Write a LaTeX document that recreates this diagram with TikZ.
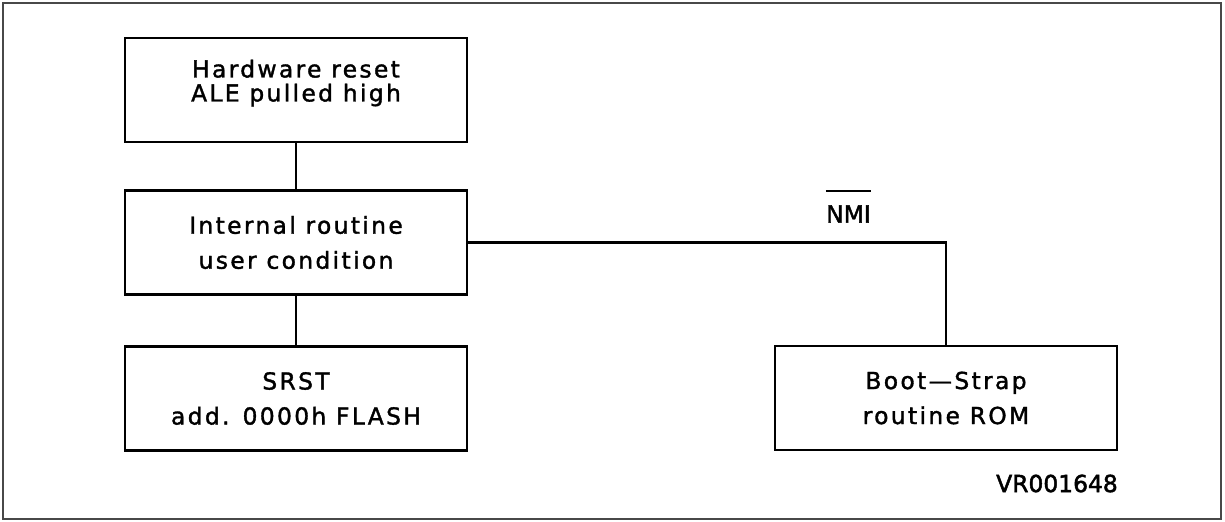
\documentclass[tikz,border=0pt]{standalone}
\usepackage{fontspec}
\setmainfont{DejaVu Sans}
\newfontfamily\plotfont[LetterSpace=10,FakeBold=1.5]{DejaVu Sans}
\newfontfamily\tagfont[FakeBold=2]{DejaVu Sans}

\begin{document}
\begin{tikzpicture}[x=0.5pt,y=-0.5pt,
  blk/.style={draw,line width=1.4pt,minimum width=171pt,minimum height=52pt,inner sep=0pt},
  blktext/.style={align=center,inner sep=0pt,font=\plotfont\fontsize{11.7}{17.5}\selectfont},
  tag/.style={inner sep=0pt,font=\tagfont\fontsize{11.7}{14}\selectfont},
  wire/.style={line width=1.4pt}]

% ------------------------------------------------ frame colour
\definecolor{frame_gray}{RGB}{72,72,72}

\useasboundingbox (0,0) rectangle (1225,521);
\draw[color=frame_gray,line width=1pt] (3,3) rectangle (1221,519);

% ------------------------------------------------ blocks
\node[blk,label={[blktext,yshift=3.5pt]center:Hardware reset\\[-5.5pt]ALE pulled high}] (hwreset) at (296,90) {};
\node[blk] (introutine) at (296,242.5) {};
\node[blktext] (introutine_txt) at (introutine) {Internal routine\\user condition};
\node[blk] (srst) at (296,398.5) {};
\node[blktext] (srst_txt) at (srst) {SRST\\add. 0000h FLASH};
\node[blk] (bootstrap) at (946,398) {};
\node[blktext] (bootstrap_txt) at (bootstrap) {Boot\textemdash Strap\\routine ROM};

% ------------------------------------------------ wires
\draw[wire] (hwreset.south) -- (introutine.north);
\draw[wire] (introutine.south) -- (srst.north);
\draw[wire] (introutine.east) -| (bootstrap.north);

% ------------------------------------------------ labels
\node[tag] (nmi) at (848.5,214) {NMI};
\draw[line width=1.2pt] ([yshift=7pt]nmi.north west) -- ([yshift=7pt]nmi.north east);
\node[tag] (figref) at (1057,483.5) {VR001648};

\end{tikzpicture}
\end{document}
